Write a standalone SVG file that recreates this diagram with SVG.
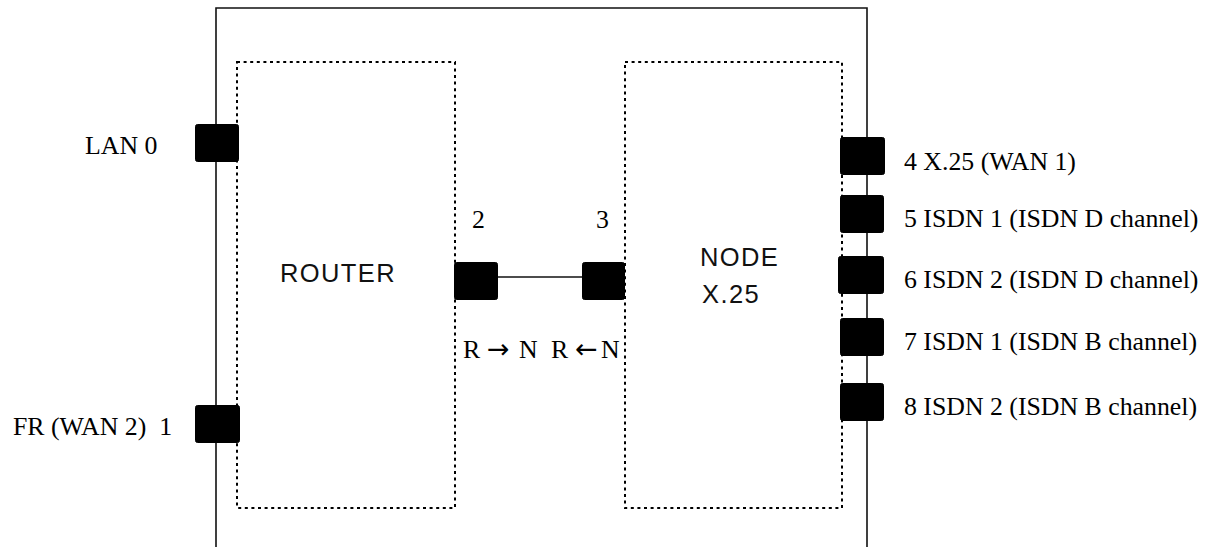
<svg xmlns="http://www.w3.org/2000/svg" width="1213" height="547" viewBox="0 0 1213 547">
<style>
.frame{fill:none;stroke:#111;stroke-width:1.6}
.dot{fill:none;stroke:#000;stroke-width:2;stroke-dasharray:3 3.6}
.port{fill:#000;stroke:#000;stroke-width:1}
.conn{fill:none;stroke:#111;stroke-width:1.5}
.lbl{font-family:"Liberation Serif","Times New Roman",serif;font-size:25.8px;fill:#000}
.arr{font-family:"DejaVu Sans",sans-serif;font-size:27px;fill:#000}
.big{font-family:"Liberation Sans",Arial,sans-serif;font-size:25.5px;letter-spacing:1.4px;fill:#111}
</style>
<rect width="1213" height="547" fill="#fff"/>
<g id="chassis">
<path class="frame" d="M216,547 V8 H867 V547"/>
</g>
<g id="router">
<rect class="dot" x="237" y="62" width="218" height="446"/>
<text class="big" x="280" y="282">ROUTER</text>
</g>
<g id="node-x25">
<rect class="dot" x="625" y="62" width="217" height="446"/>
<text class="big" x="700" y="266">NODE</text>
<text class="big" x="702" y="303">X.25</text>
</g>
<g id="connectors">
<line class="conn" x1="498" y1="277" x2="582" y2="277"/>
</g>
<g id="port-lan0">
<rect class="port" x="195.5" y="124.5" width="43" height="37" rx="2"/>
<text class="lbl" x="85" y="154">LAN 0</text>
</g>
<g id="port-fr">
<rect class="port" x="195.5" y="405.5" width="44" height="37" rx="2"/>
<text class="lbl" x="13" y="435" xml:space="preserve">FR (WAN 2)  1</text>
</g>
<g id="port-2">
<rect class="port" x="454.5" y="262.5" width="43" height="37" rx="2"/>
<text class="lbl" x="472" y="228">2</text>
</g>
<g id="port-3">
<rect class="port" x="582.5" y="262.5" width="42" height="37" rx="2"/>
<text class="lbl" x="596" y="228">3</text>
</g>
<g id="direction-labels">
<text class="lbl" x="463" y="358">R</text>
<text class="arr" x="487" y="358">→</text>
<text class="lbl" x="519" y="358">N</text>
<text class="lbl" x="551" y="358">R</text>
<text class="arr" x="575" y="358">←</text>
<text class="lbl" x="601" y="358">N</text>
</g>
<g id="port-4">
<rect class="port" x="840.5" y="137.5" width="44" height="37" rx="2"/>
<text class="lbl" x="904" y="170">4 X.25 (WAN 1)</text>
</g>
<g id="port-5">
<rect class="port" x="840.5" y="195.5" width="43" height="37" rx="2"/>
<text class="lbl" x="904" y="227">5 ISDN 1 (ISDN D channel)</text>
</g>
<g id="port-6">
<rect class="port" x="838.5" y="256.5" width="45" height="37" rx="2"/>
<text class="lbl" x="904" y="288">6 ISDN 2 (ISDN D channel)</text>
</g>
<g id="port-7">
<rect class="port" x="840.5" y="318.5" width="43" height="37" rx="2"/>
<text class="lbl" x="904" y="350">7 ISDN 1 (ISDN B channel)</text>
</g>
<g id="port-8">
<rect class="port" x="840.5" y="383.5" width="43" height="37" rx="2"/>
<text class="lbl" x="904" y="415">8 ISDN 2 (ISDN B channel)</text>
</g>
</svg>
